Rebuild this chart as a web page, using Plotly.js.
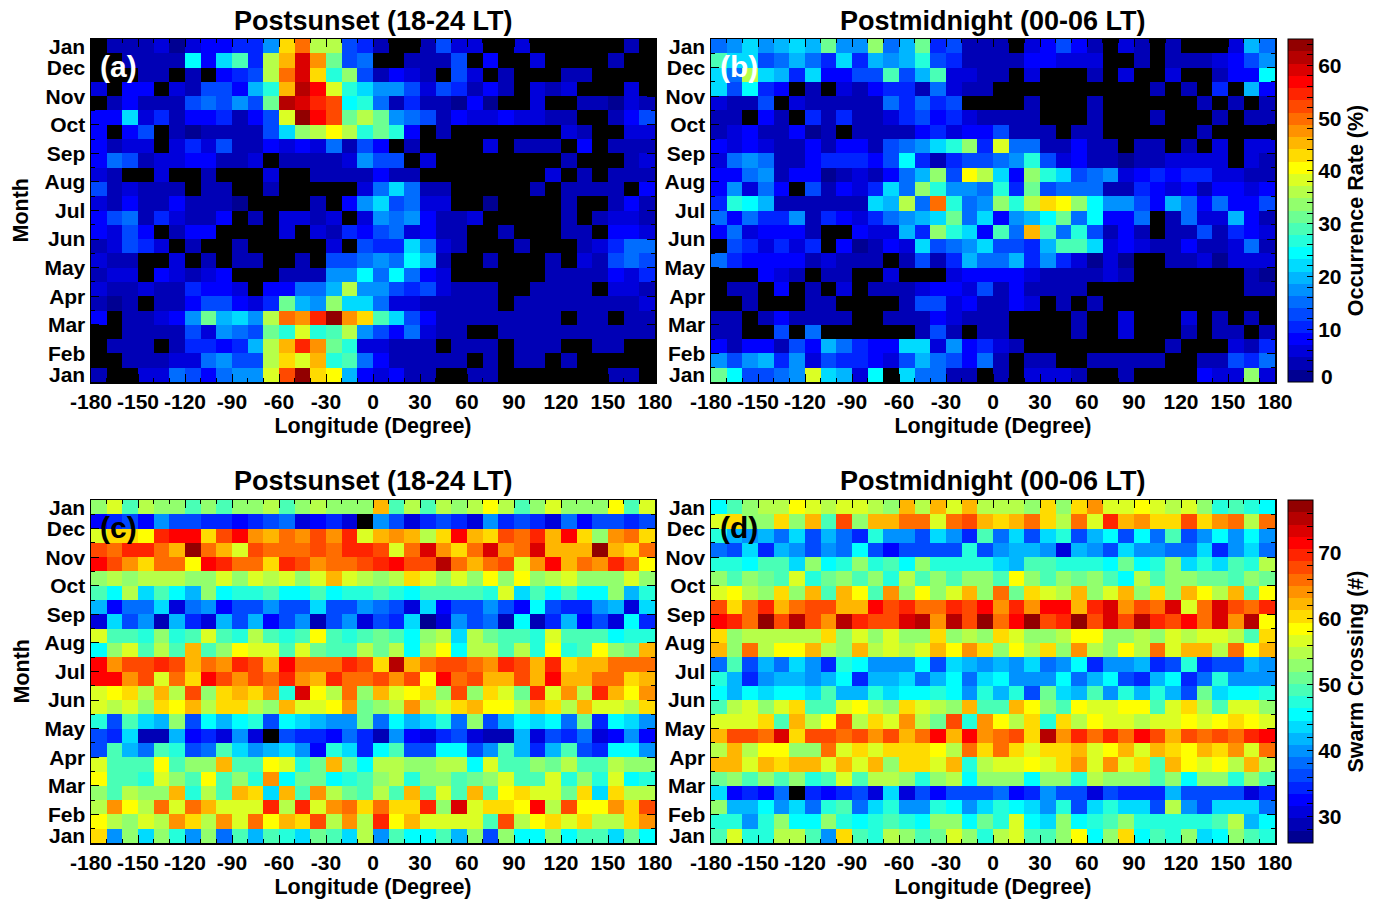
<!DOCTYPE html>
<html><head><meta charset="utf-8"><script src="https://cdn.plot.ly/plotly-3.0.1.min.js"></script>
<style>html,body{margin:0;padding:0;background:#fff}#c{width:1380px;height:900px}</style></head>
<body><div id="c"></div>
<script>
const longitudeCenters=[-175,-165,-155,-145,-135,-125,-115,-105,-95,-85,-75,-65,-55,-45,-35,-25,-15,-5,5,15,25,35,45,55,65,75,85,95,105,115,125,135,145,155,165,175];
const rowCenters=[23.5,22.5,21.5,20.5,19.5,18.5,17.5,16.5,15.5,14.5,13.5,12.5,11.5,10.5,9.5,8.5,7.5,6.5,5.5,4.5,3.5,2.5,1.5,0.5];
const lonTicks=[-180,-150,-120,-90,-60,-30,0,30,60,90,120,150,180];
const monthTickVals=[2,4,6,8,10,12,14,16,18,20,22];
const monthTickText=['Feb','Mar','Apr','May','Jun','Jul','Aug','Sep','Oct','Nov','Dec'];
// rows listed from the top of the panel to the bottom; 0 = no data drawn (black)
const postsunsetRate=[
[0,4,4,3,6,2,6,9,8,10,10,18,43,49,37,37,12,10,4,0,0,3,12,6,5,0,0,5,0,0,0,0,0,0,3,0],
[0,0,3,3,3,3,25,9,22,29,11,37,45,59,47,31,13,14,0,0,4,4,4,13,0,9,0,0,6,0,0,0,0,4,0,0],
[0,0,0,3,4,0,4,0,8,11,12,37,50,60,43,27,33,12,3,7,6,4,0,12,6,0,3,0,0,0,3,4,0,0,0,0],
[6,0,9,8,0,5,3,12,13,9,20,26,46,61,56,38,26,23,17,18,13,6,13,11,3,8,4,0,6,4,6,0,0,0,6,0],
[0,4,8,4,3,4,12,16,12,18,13,31,61,60,54,52,25,26,15,3,10,4,4,2,7,2,0,0,5,0,0,3,3,2,5,3],
[8,7,21,5,11,4,8,7,10,3,8,12,38,65,57,53,32,36,31,18,15,13,4,9,6,5,8,5,5,3,3,0,0,3,9,13],
[8,0,8,12,0,4,2,4,3,3,4,12,21,34,36,40,36,26,31,26,9,0,4,0,0,0,0,0,0,0,5,3,0,0,6,5],
[7,4,6,6,0,5,10,6,12,4,4,7,5,8,5,15,4,13,7,0,3,0,0,0,0,5,0,3,4,3,0,7,0,3,3,4],
[9,16,13,3,6,5,9,9,4,3,6,0,4,4,3,3,6,18,12,12,0,6,0,0,0,0,0,0,0,0,3,0,0,0,3,5],
[5,4,0,0,6,0,0,3,0,0,0,6,0,0,3,3,3,3,9,4,3,0,0,0,0,0,0,0,0,5,0,3,0,3,3,4],
[13,3,5,4,3,3,0,3,3,0,0,4,0,0,0,0,0,5,14,22,14,3,3,0,0,0,0,0,4,0,3,3,3,4,0,9],
[6,3,8,3,3,8,4,3,3,2,0,0,0,0,3,0,9,17,22,12,16,6,5,0,0,2,0,0,0,0,3,0,0,4,8,3],
[9,12,16,3,11,5,4,3,9,0,4,0,5,5,3,6,0,6,18,14,17,8,4,3,5,0,0,0,0,0,3,0,3,5,6,3],
[9,5,13,7,0,4,9,8,0,0,0,0,5,0,5,3,10,9,12,14,6,9,4,3,0,0,3,0,0,0,3,3,0,7,9,6],
[3,6,12,11,5,0,4,0,0,3,0,0,0,0,0,5,0,12,11,10,22,16,5,3,0,0,0,3,0,0,0,4,5,11,14,16],
[6,3,4,0,0,5,0,4,0,3,3,0,0,3,0,12,12,15,18,15,25,19,3,0,0,3,0,0,0,3,0,5,3,13,14,12],
[4,6,6,0,8,5,3,5,9,0,0,0,3,3,3,17,17,25,14,25,15,9,5,0,0,0,0,0,0,3,3,3,3,8,6,10],
[6,4,4,5,3,3,10,9,8,5,0,9,7,16,16,20,36,18,18,12,10,12,5,3,3,3,0,0,3,3,3,3,0,6,5,4],
[3,2,4,0,3,4,9,13,13,8,5,11,31,19,17,33,21,23,15,5,5,4,3,3,4,3,0,3,3,3,3,3,3,3,3,6],
[9,0,3,4,5,9,18,32,20,23,18,37,50,47,54,63,48,43,28,22,12,8,4,4,3,4,3,3,3,3,0,3,3,0,3,3],
[0,0,4,4,3,4,12,5,18,14,13,31,26,38,27,29,35,17,12,8,14,5,3,3,0,0,3,3,3,3,3,3,3,4,4,4],
[0,3,3,4,0,4,11,10,9,11,20,36,46,55,48,32,26,5,5,4,3,3,0,3,3,3,0,3,3,3,0,0,3,3,0,0],
[0,0,3,4,4,5,5,16,17,13,13,35,43,39,45,27,29,14,8,4,4,3,3,3,0,3,0,3,3,0,3,0,0,0,0,0],
[3,0,0,5,5,14,13,9,14,18,18,39,52,63,43,40,19,9,5,8,4,3,0,0,3,3,0,0,0,0,0,0,0,4,4,0]
];
const postmidnightRate=[
[16,17,23,18,19,21,20,31,17,17,33,16,19,31,11,13,3,3,3,0,5,8,13,8,3,0,5,3,0,3,0,0,0,6,19,16],
[28,21,22,12,14,19,14,11,22,11,20,18,19,26,13,10,3,3,3,4,9,9,5,5,6,0,0,3,0,3,3,3,6,8,13,17],
[22,14,37,22,19,11,23,8,7,13,13,28,13,20,28,6,6,3,3,0,5,0,0,0,4,0,5,0,0,6,0,0,3,8,9,24],
[21,13,24,11,8,0,3,0,5,3,8,11,10,3,15,5,4,3,0,0,0,0,0,0,0,0,0,0,4,0,3,0,11,0,19,9],
[6,3,3,12,0,5,3,3,4,3,4,15,11,16,10,12,0,0,0,0,3,0,0,0,3,0,0,0,0,0,0,3,0,3,0,4],
[3,4,0,8,4,0,10,4,11,4,4,6,11,12,9,11,5,3,3,3,3,0,0,0,3,0,0,0,4,0,0,0,3,0,4,4],
[3,6,7,3,3,9,2,4,0,3,4,4,4,8,11,6,8,8,12,4,4,3,0,3,3,0,0,0,0,0,0,4,0,0,0,0],
[8,6,8,6,4,4,8,3,8,8,4,13,16,17,21,26,33,10,39,16,16,4,4,7,3,3,0,3,3,0,3,0,5,0,6,5],
[5,15,18,15,4,4,8,11,11,11,7,12,25,10,4,10,12,12,16,18,26,12,5,9,4,3,2,3,4,6,5,5,5,0,5,3],
[8,8,15,18,4,7,7,2,3,6,3,9,15,20,34,12,41,37,23,8,33,26,22,12,14,17,6,9,11,8,11,11,6,5,3,4],
[8,18,5,14,9,0,13,3,8,5,11,21,14,34,26,17,17,16,26,11,31,12,14,15,16,3,4,11,8,5,9,3,9,8,5,9],
[11,26,24,19,4,4,3,3,3,3,21,20,36,15,49,26,14,18,34,26,36,42,41,34,24,17,17,13,8,19,15,9,16,8,9,13],
[15,7,14,10,10,17,3,10,9,5,11,16,18,19,23,31,15,22,8,18,20,25,32,15,25,8,7,14,0,4,14,5,6,20,8,4],
[8,16,6,8,7,7,4,0,0,7,6,6,19,11,33,26,22,7,29,16,46,30,15,26,12,3,9,3,0,3,3,12,3,11,7,5],
[0,12,11,6,11,5,11,0,9,2,3,8,5,23,12,16,18,23,13,13,11,20,28,30,22,6,8,5,4,4,8,4,4,6,15,4],
[15,11,8,9,9,7,4,5,3,4,4,0,4,12,4,10,19,16,16,20,10,18,11,5,2,5,2,0,0,3,3,5,2,5,5,5],
[0,0,0,9,5,3,0,4,3,0,0,5,0,0,0,5,7,8,8,8,6,4,3,3,4,5,3,0,0,0,0,0,0,0,3,2],
[0,3,4,0,7,0,3,0,5,0,4,3,3,6,8,7,6,12,3,8,3,3,3,3,0,0,0,0,0,0,0,0,0,0,3,3],
[0,0,3,0,0,0,4,3,0,0,0,0,4,12,13,6,9,3,3,7,5,0,3,0,3,0,0,0,0,0,0,0,0,0,0,0],
[4,3,0,3,8,3,3,3,4,0,0,4,3,4,8,5,3,3,3,0,0,0,0,4,0,0,5,0,0,0,5,0,4,0,3,0],
[3,3,0,0,13,0,15,0,0,0,0,0,0,4,12,4,0,3,3,0,0,0,0,4,0,0,5,0,0,0,4,0,3,3,0,4],
[8,4,7,8,3,12,9,19,15,11,8,7,21,21,5,17,8,11,5,4,0,0,0,0,0,0,0,0,0,3,0,0,0,5,3,10],
[17,13,17,20,11,17,6,13,11,10,8,6,12,20,16,12,9,14,3,0,3,3,0,0,3,4,3,3,4,0,0,3,3,12,11,15],
[31,24,13,13,16,18,38,23,19,5,24,0,22,14,14,4,3,0,3,0,5,6,6,3,0,0,3,0,0,0,0,8,5,5,34,5]
];
const postsunsetCrossings=[
[53,57,49,55,52,53,50,53,50,52,52,55,50,53,55,52,52,52,62,50,55,49,55,53,55,59,55,50,53,56,53,53,53,59,49,56],
[33,35,36,33,39,36,36,34,35,33,34,36,38,31,33,35,31,0,40,36,31,34,36,35,31,39,34,36,34,31,38,33,36,37,35,36],
[57,60,60,59,69,71,72,60,67,72,64,62,66,64,67,64,70,57,63,64,62,55,61,72,63,60,67,65,69,62,71,61,53,64,66,61],
[68,65,69,70,66,62,77,66,62,56,68,65,66,65,68,65,70,70,68,57,66,73,64,61,66,74,64,65,73,63,63,63,77,62,60,66],
[71,68,64,61,65,66,59,71,70,65,66,61,69,68,64,66,66,67,70,71,68,67,75,66,63,66,67,57,64,72,62,65,64,69,65,59],
[53,55,53,54,54,54,53,52,57,53,56,55,57,52,57,63,57,55,53,54,61,56,53,56,53,59,53,59,53,55,57,52,52,53,57,53],
[49,46,55,44,49,46,41,52,46,48,47,50,46,46,49,46,48,47,49,48,46,50,49,49,50,47,57,44,49,45,50,46,46,53,42,48],
[41,33,38,38,43,31,38,39,33,37,37,39,36,37,44,36,37,39,38,37,31,44,33,36,36,39,37,33,46,36,34,35,40,41,31,43],
[31,43,36,40,29,42,35,31,41,36,41,33,37,40,28,37,40,31,36,34,43,27,30,40,36,38,29,46,29,35,42,33,37,31,46,34],
[57,49,49,47,53,47,50,56,50,47,55,49,47,49,59,49,48,49,51,50,46,53,55,43,54,51,49,50,47,56,49,49,49,46,48,47],
[46,52,57,49,55,49,62,49,52,59,56,56,50,57,51,49,49,54,51,54,46,55,59,46,54,54,49,55,47,58,47,49,58,53,51,62],
[71,64,67,67,69,67,62,66,64,69,67,63,71,65,65,65,69,67,61,76,62,65,67,68,66,64,69,67,63,69,61,63,62,66,66,65],
[71,71,64,67,57,65,61,71,67,64,67,65,69,64,63,69,66,66,67,64,67,59,71,66,67,63,62,67,63,72,62,62,65,65,60,62],
[56,59,61,54,62,55,67,53,60,62,60,64,48,73,59,55,65,53,62,56,58,60,52,67,52,61,57,51,69,56,64,55,69,62,59,64],
[56,55,57,53,60,58,62,55,60,60,55,53,62,56,56,59,64,51,53,55,64,55,57,60,62,59,59,54,62,60,54,62,57,57,55,61],
[47,37,50,44,42,52,36,46,41,45,47,36,46,44,41,39,40,51,38,46,41,43,47,38,52,37,41,45,44,45,38,51,35,45,44,39],
[36,35,44,29,28,42,33,35,31,40,30,0,37,35,34,33,38,34,28,40,33,31,34,36,31,29,29,41,30,36,34,38,31,33,40,33],
[36,50,41,38,49,47,36,38,49,43,40,41,43,40,33,47,43,34,46,50,36,36,46,46,36,39,50,42,35,41,49,36,35,46,45,39],
[56,50,50,49,59,49,53,52,62,50,50,59,57,47,51,62,51,46,55,54,52,52,55,55,46,57,49,49,53,51,55,50,50,55,52,53],
[59,49,50,48,57,52,49,59,49,52,48,64,46,51,51,46,48,50,52,54,47,53,52,50,51,52,56,49,50,57,48,52,47,57,46,47],
[52,49,55,53,53,62,47,54,50,62,60,44,62,49,64,55,51,50,54,49,62,49,56,49,63,50,59,61,56,56,51,60,44,60,54,54],
[55,64,59,54,65,56,65,63,56,57,57,69,55,69,57,64,66,61,65,61,60,69,53,74,57,61,61,59,72,55,67,59,59,64,60,67],
[59,54,52,56,54,64,60,54,64,57,66,59,63,61,67,55,64,54,69,59,63,56,56,56,56,49,68,54,59,61,57,60,55,54,61,64],
[60,40,53,43,52,47,40,53,38,50,41,50,47,44,51,49,44,55,39,50,45,45,49,41,52,37,52,45,45,53,45,49,50,44,51,45]
];
const postmidnightCrossings=[
[45,50,52,54,54,59,56,55,57,57,55,53,62,55,62,57,62,55,54,55,52,60,52,61,64,56,57,58,57,54,56,52,48,50,47,45],
[57,61,52,52,60,53,63,50,67,53,62,63,65,65,57,65,67,63,60,63,66,61,55,65,57,69,62,64,61,61,67,60,64,65,55,66],
[48,42,40,41,38,44,37,42,38,34,47,39,40,36,44,39,35,50,38,44,37,44,47,36,42,46,37,46,38,50,36,39,46,39,46,39],
[38,37,43,35,41,39,36,39,38,45,36,33,37,36,36,36,47,36,39,41,41,40,30,42,40,36,44,39,39,38,38,44,35,40,43,38],
[47,47,46,50,49,44,53,46,48,52,48,49,45,52,47,47,47,47,44,42,50,50,48,48,48,45,51,45,48,53,43,48,44,50,47,54],
[52,50,53,51,49,56,48,51,52,50,53,47,54,50,52,49,53,52,50,59,52,49,53,51,53,49,46,54,50,52,52,51,51,50,53,51],
[57,59,55,53,60,53,62,50,62,59,49,64,52,59,52,57,62,52,65,51,60,57,55,62,53,57,63,52,60,53,63,59,54,63,50,59],
[68,61,65,70,63,65,67,68,62,63,71,67,69,66,66,70,67,71,64,70,64,71,71,62,69,74,64,68,65,73,57,65,74,67,66,69],
[71,69,66,77,68,75,67,64,76,70,68,67,74,75,64,76,68,78,65,71,77,67,69,78,67,74,67,75,69,68,72,66,74,64,75,59],
[60,52,55,54,54,55,54,60,52,57,52,56,52,52,61,53,55,53,60,57,53,53,55,59,59,52,53,55,52,57,54,57,57,54,49,60],
[62,52,66,54,58,59,62,55,53,63,55,56,55,57,62,58,64,61,53,59,54,60,53,64,55,53,59,54,66,57,62,63,54,65,59,62],
[38,49,37,41,38,43,40,34,47,45,39,40,40,46,36,43,42,39,41,39,44,38,40,46,35,40,40,42,34,37,47,35,37,37,41,39],
[48,42,35,40,42,41,39,41,46,35,41,42,44,38,41,46,38,44,45,39,39,39,45,38,42,46,37,35,41,46,35,38,47,39,40,39],
[46,42,46,43,46,45,43,49,41,42,47,43,46,45,47,46,40,48,41,47,36,51,44,41,50,39,48,42,47,42,37,51,43,46,46,47],
[50,54,57,52,56,60,50,50,56,59,54,53,61,56,54,53,62,50,50,63,59,53,50,58,56,56,59,59,50,57,60,55,50,56,56,53],
[57,57,56,60,50,62,54,58,67,54,60,56,64,54,51,67,48,64,59,54,60,48,60,54,58,56,56,54,57,56,58,56,59,60,58,57],
[62,68,67,65,74,60,68,67,66,67,64,68,63,65,72,63,71,64,65,67,61,75,64,69,66,70,65,71,68,62,68,65,68,66,69,72],
[54,62,54,59,59,53,52,66,57,60,57,60,60,61,58,55,66,61,65,60,57,60,61,62,57,59,62,57,62,60,59,63,61,64,57,66],
[62,62,57,62,60,62,62,56,62,56,62,52,60,61,56,62,48,54,56,56,58,56,60,64,56,64,57,61,50,62,58,56,58,54,62,55],
[51,52,50,53,49,53,48,50,57,50,55,55,53,48,52,55,46,52,52,52,45,52,52,48,55,52,52,53,49,53,45,52,52,47,53,49],
[43,33,35,33,38,0,35,33,35,36,31,44,31,36,33,36,36,36,38,33,34,39,36,37,31,36,35,34,35,41,37,36,36,37,30,34],
[52,41,41,46,40,43,38,47,49,38,44,48,40,40,48,46,39,44,47,46,44,39,48,36,43,48,43,43,36,54,39,36,43,44,43,38],
[48,48,40,47,53,46,46,52,47,46,48,50,48,46,52,52,45,51,47,56,46,43,53,45,47,50,53,48,48,48,48,47,49,55,41,45],
[49,56,48,47,54,55,50,40,61,49,47,55,52,50,51,57,53,47,54,57,50,50,52,58,46,52,61,46,50,47,52,43,45,53,49,48]
];
const W=1380,H=900,LEVELS=28;
function clip(v){return Math.max(0,Math.min(1,v));}
const stepScale=[];
for(let i=0;i<LEVELS;i++){
  const t=(i+0.5)/LEVELS;
  const c='rgb('+[3,2,1].map(k=>Math.round(255*clip(1.5-Math.abs(4*t-k)))).join(',')+')';
  stepScale.push([i/LEVELS,c],[(i+1)/LEVELS,c]);
}
const FONT='"Liberation Sans", Arial, sans-serif';
const tickFont={family:FONT,size:21,color:'#000',weight:700};
const titleFont={family:FONT,size:21.5,color:'#000',weight:700};
function px(x){return x/W;}
function py(y){return 1-y/H;}
function evens(a,b){const r=[];for(let v=a;v<=b;v+=2)r.push(v);return r;}
const panels=[
 {z:postsunsetRate,x:[91,655],y:[39,382],titleY:21,title:'Postsunset (18-24 LT)',tag:'(a)',tagColor:'#fff',month:true},
 {z:postmidnightRate,x:[711,1275],y:[39,382],titleY:21,title:'Postmidnight (00-06 LT)',tag:'(b)',tagColor:'#fff',month:false},
 {z:postsunsetCrossings,x:[91,655],y:[500,843],titleY:481,title:'Postsunset (18-24 LT)',tag:'(c)',tagColor:'#000',month:true},
 {z:postmidnightCrossings,x:[711,1275],y:[500,843],titleY:481,title:'Postmidnight (00-06 LT)',tag:'(d)',tagColor:'#000',month:false}
];
const rateBar={zmin:0,zmax:65,vals:evens(0,64),title:'Occurrence Rate (%)',y:[39,382]};
const crossBar={zmin:26,zmax:78,vals:evens(26,78),title:'Swarm Crossing (#)',y:[500,843]};
const traces=[],annotations=[],layout={width:W,height:H,margin:{l:0,r:0,t:0,b:0},paper_bgcolor:'#fff',plot_bgcolor:'#000',showlegend:false,font:{family:FONT,color:'#000'}};
panels.forEach((p,i)=>{
  const n=i+1,s=n===1?'':n;
  const bar=i<2?rateBar:crossBar;
  const t={type:'heatmap',x:longitudeCenters,y:rowCenters,z:p.z.map(r=>r.map(v=>v===0?null:v)),xaxis:'x'+s,yaxis:'y'+s,
    colorscale:stepScale,zmin:bar.zmin,zmax:bar.zmax,zsmooth:false,showscale:i%2===1,hoverongaps:false};
  if(i%2===1){
    t.colorbar={x:px(1288),xanchor:'left',xpad:0,ypad:0,thickness:25,thicknessmode:'pixels',len:343/H,lenmode:'fraction',
      y:(py(bar.y[0])+py(bar.y[1]))/2,yanchor:'middle',outlinewidth:1,outlinecolor:'#000',
      tickmode:'array',tickvals:bar.vals,ticktext:bar.vals.map(v=>(v%10===0&&v!==0)?String(v):''),ticks:'inside',ticklen:6,tickwidth:1,tickcolor:'#000',
      tickfont:tickFont,title:{text:bar.title,side:'right',font:titleFont}};
  }
  traces.push(t);
  layout['xaxis'+s]={domain:[px(p.x[0]),px(p.x[1])],range:[-180,180],anchor:'y'+s,tickmode:'array',tickvals:lonTicks,ticktext:lonTicks.map(String),
    ticks:'inside',ticklen:8,tickwidth:1,tickcolor:'#000',showgrid:false,zeroline:false,showline:true,linecolor:'#000',linewidth:1.5,mirror:'allticks',
    minor:{dtick:10,tick0:-180,ticks:'inside',ticklen:4,tickwidth:1,tickcolor:'#000',showgrid:false},
    tickangle:0,tickfont:tickFont,title:{text:'Longitude (Degree)',font:titleFont,standoff:6}};
  layout['yaxis'+s]={domain:[py(p.y[1]),py(p.y[0])],range:[0,24],anchor:'x'+s,tickmode:'array',tickvals:monthTickVals,ticktext:monthTickText,
    ticks:'inside',ticklen:8,tickwidth:1,tickcolor:'#000',showgrid:false,zeroline:false,showline:true,linecolor:'#000',linewidth:1.5,mirror:'allticks',
    minor:{dtick:1,tick0:0,ticks:'inside',ticklen:4,tickwidth:1,tickcolor:'#000',showgrid:false},
    tickfont:tickFont,ticklabelstandoff:0};
  const mid=(p.x[0]+p.x[1])/2/W;
  annotations.push({text:p.title,xref:'paper',yref:'paper',x:mid,y:py(p.titleY),xanchor:'center',yanchor:'middle',showarrow:false,font:{family:FONT,size:27,color:'#000',weight:700}});
  annotations.push({text:p.tag,xref:'paper',yref:'paper',x:px(p.x[0]+7),y:py(p.y[0]+27),xanchor:'left',yanchor:'middle',showarrow:false,font:{family:FONT,size:30,color:p.tagColor,weight:700}});
  annotations.push({text:'Jan',xref:'paper',yref:'y'+s,x:px(p.x[0]-4),y:0.5,xanchor:'right',yanchor:'middle',showarrow:false,font:tickFont});
  annotations.push({text:'Jan',xref:'paper',yref:'y'+s,x:px(p.x[0]-4),y:23.5,xanchor:'right',yanchor:'middle',showarrow:false,font:tickFont});
  if(p.month) annotations.push({text:'Month',xref:'paper',yref:'paper',x:px(21),y:(py(p.y[0])+py(p.y[1]))/2,xanchor:'center',yanchor:'middle',textangle:-90,showarrow:false,font:titleFont});
});
annotations.push({text:'0',xref:'paper',yref:'paper',x:px(1319),y:py(376),xanchor:'left',yanchor:'middle',showarrow:false,font:tickFont});
layout.annotations=annotations;
Plotly.newPlot('c',traces,layout,{displayModeBar:false,staticPlot:true});
</script></body></html>
